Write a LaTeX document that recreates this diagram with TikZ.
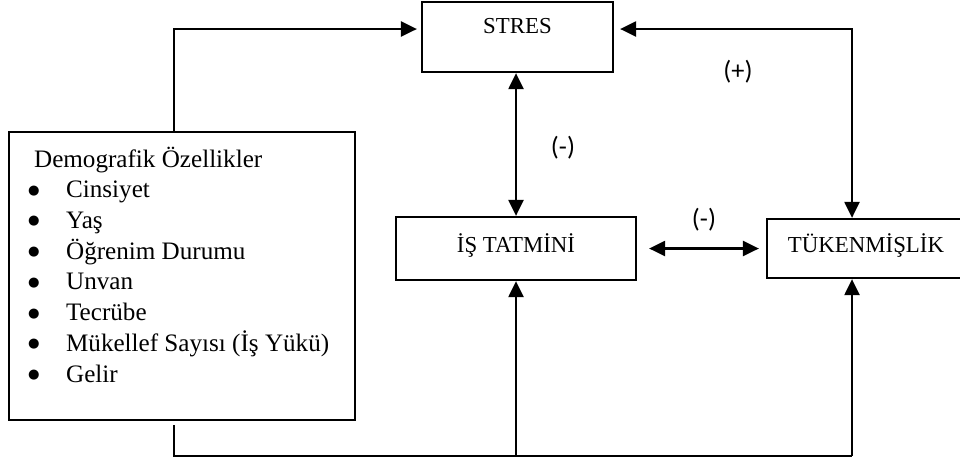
\documentclass[tikz,border=0pt]{standalone}
\usepackage{fontspec}
\setmainfont{Liberation Serif}
\newfontfamily\etiketfont{Carlito}
\newfontfamily\noktafont{DejaVu Sans}
\usetikzlibrary{arrows.meta}

\newcommand{\madde}{\hspace*{-0.12cm}\makebox[0.76cm][l]{\raisebox{0.14em}{\noktafont\fontsize{7.5}{8}\selectfont ●}}}

\begin{document}
\begin{tikzpicture}
	[x=0.02cm,y=-0.02cm,
	kutu/.style={draw, line width=1.3pt, inner sep=0pt, font=\fontsize{13}{15}\selectfont},
	ok/.style={line width=1.3pt, -{Triangle[length=0.32cm,width=0.3cm]}},
	cift/.style={line width=1.3pt, {Triangle[length=0.32cm,width=0.3cm]}-{Triangle[length=0.32cm,width=0.3cm]}},
	hat/.style={line width=1.3pt},
	isaret/.style={font=\etiketfont\fontsize{15}{17}\selectfont}]
	\useasboundingbox (0,0) rectangle (960,461);
	\node[kutu, minimum width=3.82cm, minimum height=1.4cm, text depth=0.44cm] (stres) at (517.5,37) {STRES};
	\node[kutu, minimum width=4.8cm, minimum height=1.26cm, text depth=0.22cm] (tatmin) at (516,248.5) {İŞ TATMİNİ};
	\node[kutu, minimum width=3.96cm, minimum height=1.18cm, text depth=0.22cm] (tuken) at (866,248.5) {TÜKENMİŞLİK};
	\node[kutu, anchor=north west, font=\fontsize{14.3}{17.5}\selectfont] (demo) at (8,131)
	{\parbox[t][5.76cm][t]{6.92cm}{\leftskip=0.5cm\parindent=0pt\vspace*{0.29cm}
	Demografik Özellikler\\
	\madde Cinsiyet\\
	\madde Yaş\\
	\madde Öğrenim Durumu\\
	\madde Unvan\\
	\madde Tecrübe\\
	\madde Mükellef Sayısı (İş Yükü)\\
	\madde Gelir}};
	
	\coordinate (k1) at (174,29);
	\coordinate (k2) at (852,29);
	\coordinate (k3) at (174,456);
	\coordinate (k4) at (852,456);
	
	% oklar
	\draw[ok, shorten >=0.08cm] (demo.north -| k1) -- (k1) -- (stres.west |- k1);
	\draw[cift, shorten <=0.12cm] (stres.east |- k2) -- (k2) -- (tuken.north -| k2);
	\draw[cift] (stres.south -| tatmin.north) -- (tatmin.north);
	\draw[cift, shorten <=0.24cm, shorten >=0.14cm] (tatmin.east) -- (tuken.west);
	\draw[hat, shorten <=0.08cm] (demo.south -| k3) -- (k3) -- (k4);
	\draw[ok] (k3 -| tatmin.south) -- (tatmin.south);
	\draw[ok] (k4) -- (tuken.south -| k4);
	
	\node[isaret] (arti) at (738,72) {(+)};
	\node[isaret] (eksi1) at (563,148) {(-)};
	\node[isaret] (eksi2) at (704,220) {(-)};
\end{tikzpicture}
\end{document}
